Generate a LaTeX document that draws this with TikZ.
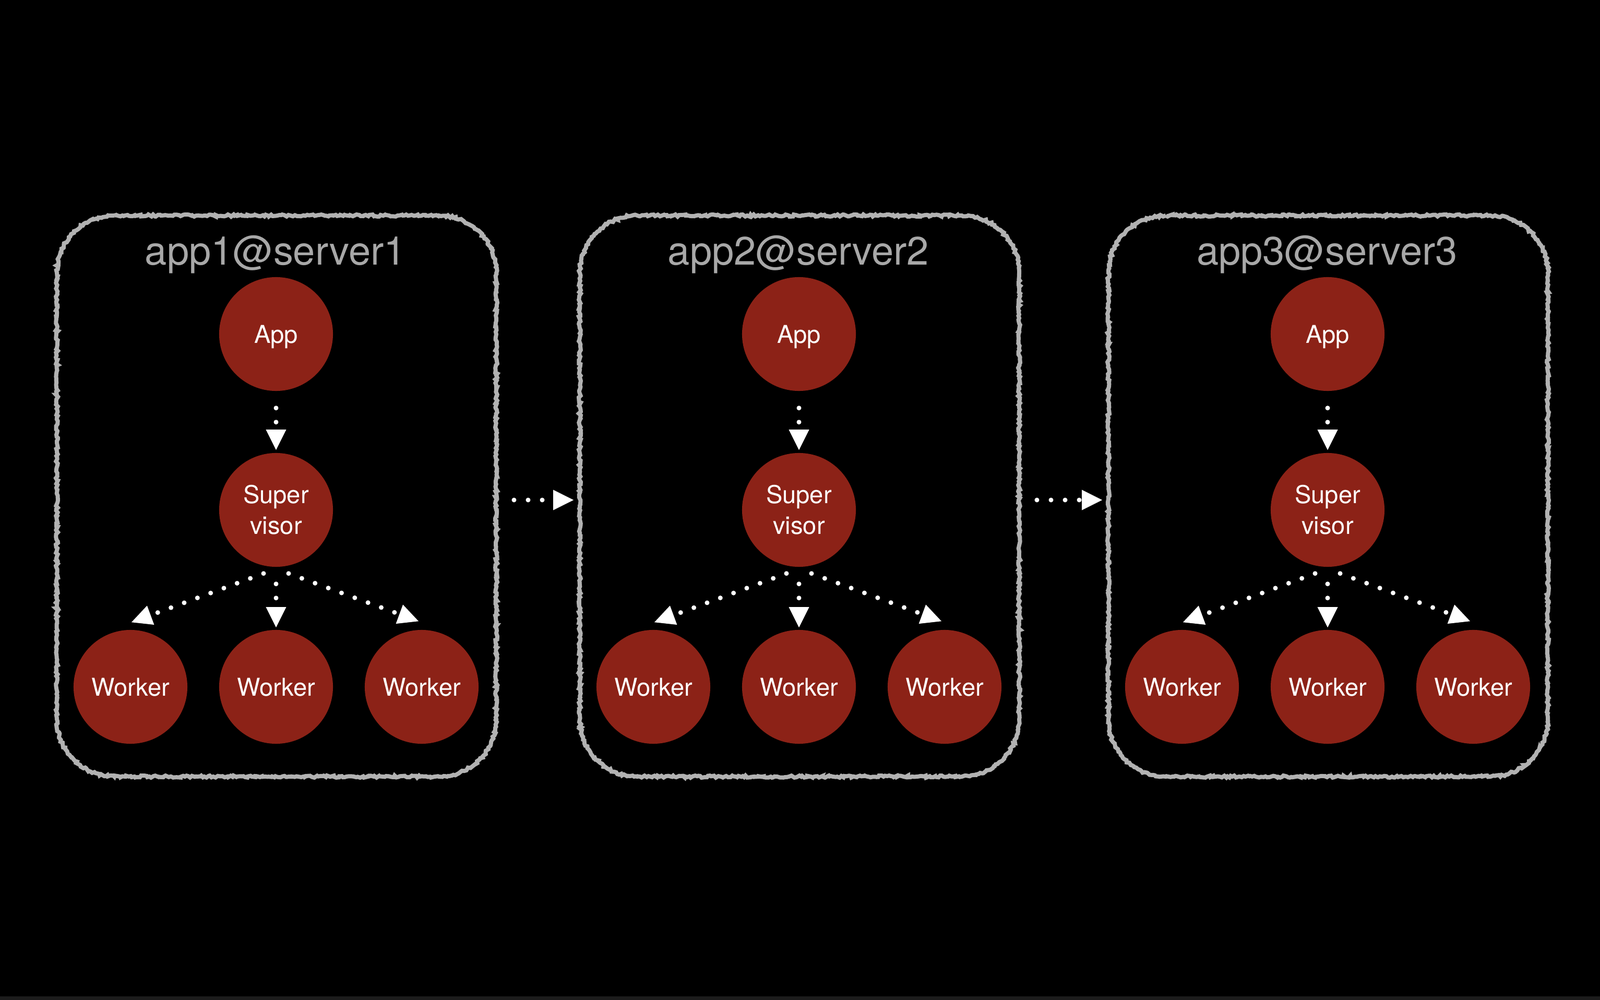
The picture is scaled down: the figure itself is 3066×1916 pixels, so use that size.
\documentclass[tikz,border=0pt]{standalone}
\usepackage{fontspec}
\setmainfont{TeX Gyre Heros}
\usetikzlibrary{arrows.meta,decorations.pathmorphing}
\definecolor{nodered}{RGB}{140,34,23}
\definecolor{chalk}{RGB}{178,178,178}
\definecolor{titlegray}{RGB}{168,168,168}
\definecolor{stripgray}{RGB}{28,28,28}
\tikzset{
	proc/.style={circle, fill=nodered, minimum size=2.18cm, inner sep=0pt, text=white,
		font=\fontsize{13.4}{16.8}\selectfont, align=center},
	oneline/.style={text depth=0pt},
	hostbox/.style={minimum width=8.42cm, minimum height=10.75cm, inner sep=0pt},
	chalkline/.style={draw=chalk, line width=0.08cm, decorate,
		decoration={random steps, segment length=0.035cm, amplitude=0.02cm}},
	hosttitle/.style={text=titlegray, font=\fontsize{21.6}{25}\selectfont, anchor=base},
	link/.style={white, line width=0.09cm, line cap=round, dash pattern=on 0pt off 0.27cm,
		-{Triangle[length=0.39cm, width=0.39cm, line width=0pt]}}
}
\begin{document}
\begin{tikzpicture}[x=0.01cm, y=-0.01cm]
	\fill[black] (0,0) rectangle (3066,1916);
	\useasboundingbox (0,0) rectangle (3066,1916);
	\fill[stripgray] (0,1909) rectangle (3066,1916);

	\foreach \cx/\idx in {531/1, 1533/2, 2546/3} {
		% host frame
		\node[hostbox] (box\idx) at (\cx,951.5) {};
		\path[chalkline] (box\idx.north west) ++(110,0) -- ++(622,0)
			arc[start angle=-90, end angle=0, radius=110] -- ++(0,855)
			arc[start angle=0, end angle=90, radius=110] -- ++(-622,0)
			arc[start angle=90, end angle=180, radius=110] -- ++(0,-855)
			arc[start angle=180, end angle=270, radius=110] -- cycle;
		\node[hosttitle] (title\idx) at (\cx-3,508) {app\idx @server\idx};

		% processes
		\node[proc, oneline] (app\idx) at (\cx-2,640) {App};
		\node[proc] (sup\idx) at (\cx-2,977) {Super\\visor};
		\node[proc, oneline] (wa\idx) at (\cx-281,1316) {Worker};
		\node[proc, oneline] (wb\idx) at (\cx-2,1316) {Worker};
		\node[proc, oneline] (wc\idx) at (\cx+277,1316) {Worker};

		\draw[link, shorten <=0.32cm, shorten >=0.05cm] (app\idx.south) -- (sup\idx.north);
		\draw[link, shorten <=0.32cm, shorten >=0.04cm] (sup\idx.south) -- (wb\idx.north);
		\draw[link] ([shift={(-24,12)}]sup\idx.south) -- ([shift={(2,-14)}]wa\idx.north);
		\draw[link] ([shift={(24,12)}]sup\idx.south) -- ([shift={(-6,-16)}]wc\idx.north);
	}

	\draw[link, shorten <=0.32cm, shorten >=0.12cm] ([yshift=-0.065cm]box1.east) -- ([yshift=-0.065cm]box2.west);
	\draw[link, shorten <=0.32cm, shorten >=0.12cm] ([yshift=-0.065cm]box2.east) -- ([yshift=-0.065cm]box3.west);
\end{tikzpicture}
\end{document}
